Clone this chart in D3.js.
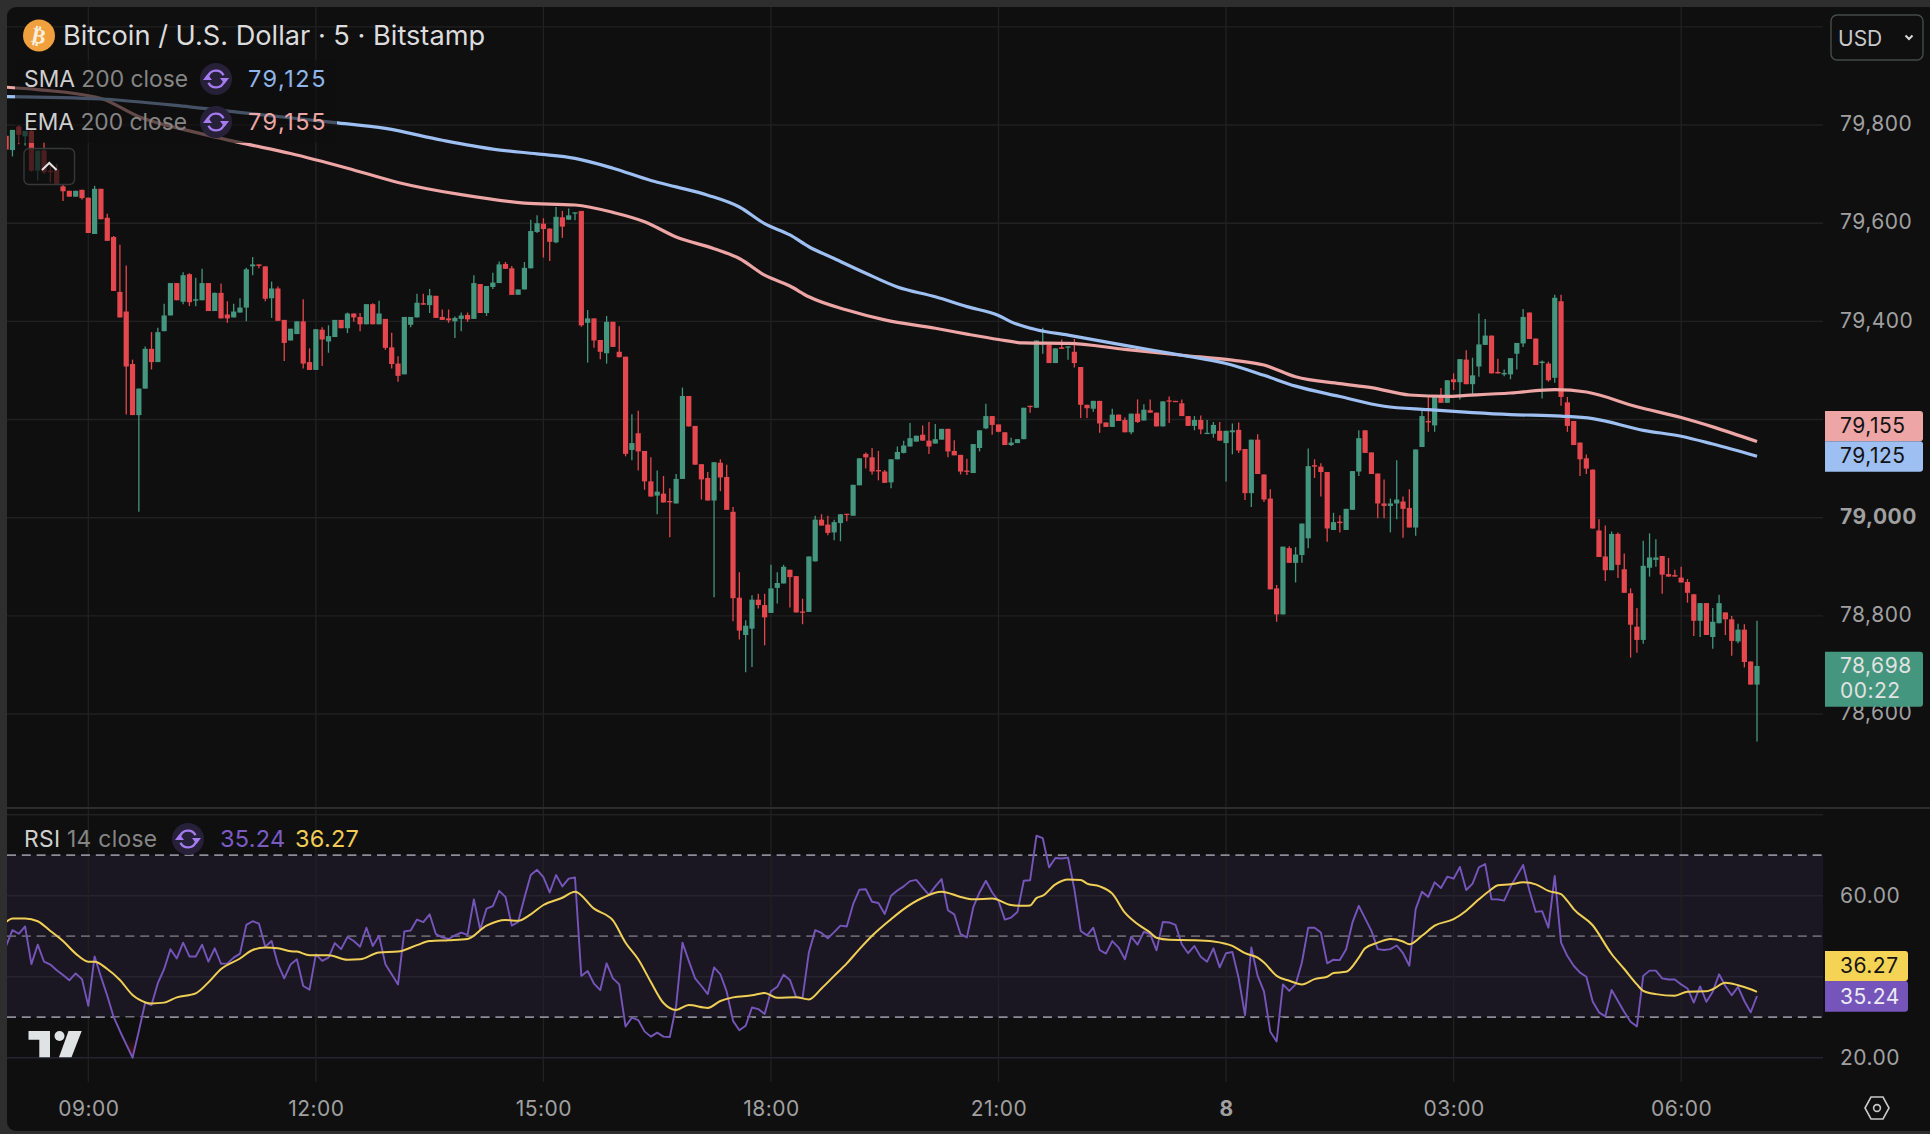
<!DOCTYPE html>
<html>
<head>
<meta charset="utf-8">
<script src="https://cdn.jsdelivr.net/npm/d3@7"></script>
<style>
    html, body { margin: 0; padding: 0; background: #2e2e2e; overflow: hidden; }
    text { font-family: Inter, "Noto Sans", sans-serif; }
</style>
</head>
<body>
<div id="main"></div>
<script>
// first bar sits 13 bars before the 09:00 one, last one is 07:00 next day
const firstBar = -13;

const opens = [
    79778,79749,79797,79777,79788,79707,79748,79707,79709,79675,
    79666,79654,79668,79652,79578,79670,79611,79572,79460,79420,
    79313,79209,79263,79344,79317,79380,79412,79478,79440,79496,
    79442,79443,79478,79421,79458,79414,79408,79418,79428,79512,
    79516,79512,79447,79467,79403,79361,79374,79400,79317,79301,
    79383,79359,79368,79403,79386,79416,79409,79394,79435,79394,
    79405,79347,79314,79292,79393,79408,79437,79433,79452,79409,
    79406,79400,79405,79413,79405,79476,79417,79470,79478,79517,
    79508,79454,79465,79508,79582,79599,79589,79561,79612,79607,
    79620,79625,79397,79406,79362,79335,79399,79338,79328,79138,
    79172,79136,79074,79045,79049,79034,79029,79079,79248,79187,
    79109,79081,79035,79112,79083,79012,78837,78761,78774,78833,
    78822,78806,78857,78866,78894,78881,78809,78808,78911,78996,
    78986,78970,78989,79008,79004,79066,79130,79123,79097,79094,
    79072,79119,79132,79145,79155,79169,79157,79151,79159,79181,
    79136,79128,79096,79091,79142,79182,79207,79190,79174,79148,
    79152,79160,79228,79224,79353,79353,79315,79347,79347,79338,
    79307,79230,79222,79238,79194,79185,79210,79199,79174,79212,
    79198,79219,79214,79186,79239,79238,79233,79207,79187,79199,
    79171,79171,79177,79152,79174,79179,79140,79050,79159,79088,
    79039,78856,78803,78938,78908,78924,78958,79107,79104,79093,
    78975,78992,78975,79016,79094,79178,79133,79090,79029,79024,
    79029,79033,79020,78980,79144,79197,79188,79247,79234,79282,
    79276,79322,79272,79308,79352,79371,79297,79292,79292,79334,
    79355,79418,79365,79315,79314,79285,79441,79235,79197,79153,
    79121,79098,78974,78921,78893,78967,78895,78846,78778,78751,
    78898,78914,78922,78885,78883,78878,78869,78844,78790,78826,
    78757,78785,78807,78793,78748,78772,78707,78660
];
const highs = [
    79782,79790,79800,79788,79790,79748,79765,79724,79721,79678,
    79666,79666,79668,79652,79676,79670,79619,79574,79556,79514,
    79322,79263,79349,79378,79387,79436,79478,79478,79500,79498,
    79489,79507,79478,79459,79477,79441,79436,79447,79509,79531,
    79516,79512,79481,79471,79403,79385,79400,79445,79345,79384,
    79388,79392,79403,79403,79418,79416,79417,79435,79437,79442,
    79405,79377,79329,79409,79409,79456,79456,79466,79452,79424,
    79424,79410,79418,79418,79494,79476,79472,79499,79522,79521,
    79513,79465,79521,79607,79616,79610,79589,79633,79625,79630,
    79622,79625,79423,79406,79362,79411,79399,79390,79328,79211,
    79218,79136,79123,79096,79085,79060,79089,79265,79248,79187,
    79109,79093,79113,79119,79108,79022,78889,78791,78842,78845,
    78845,78904,78889,78904,78894,78881,78835,78921,79004,79007,
    79004,78996,79007,79008,79067,79121,79133,79142,79136,79097,
    79119,79145,79157,79193,79167,79188,79195,79191,79181,79181,
    79158,79128,79120,79150,79178,79232,79207,79190,79174,79163,
    79160,79224,79228,79361,79387,79353,79345,79363,79349,79364,
    79307,79230,79238,79238,79194,79222,79210,79204,79212,79241,
    79231,79241,79214,79237,79247,79238,79241,79207,79207,79208,
    79199,79195,79195,79177,79192,79194,79140,79159,79170,79088,
    79058,78863,78941,78942,78940,78988,79141,79119,79111,79093,
    79010,79005,79018,79095,79178,79178,79133,79090,79078,79039,
    79117,79043,79058,79139,79218,79247,79247,79264,79280,79294,
    79323,79341,79326,79416,79405,79371,79324,79302,79325,79356,
    79425,79418,79365,79320,79318,79454,79454,79246,79197,79153,
    79129,79098,78997,78984,78972,78970,78927,78856,78816,78953,
    78968,78956,78922,78918,78894,78900,78875,78844,78826,78826,
    78816,78843,78807,78800,78784,78783,78707,78790
];
const lows = [
    79745,79736,79761,79758,79705,79687,79700,79683,79680,79645,
    79654,79654,79648,79580,79578,79608,79564,79462,79408,79210,
    79209,79012,79263,79302,79317,79380,79412,79443,79435,79431,
    79431,79443,79421,79421,79406,79397,79408,79418,79400,79494,
    79508,79441,79407,79401,79319,79361,79374,79304,79301,79301,
    79309,79336,79368,79386,79376,79399,79380,79394,79394,79394,
    79342,79304,79277,79292,79388,79408,79434,79417,79407,79403,
    79397,79366,79380,79399,79405,79417,79411,79466,79478,79507,
    79454,79454,79465,79508,79580,79530,79523,79559,79570,79607,
    79606,79389,79316,79346,79323,79314,79348,79327,79125,79117,
    79096,79057,79043,79007,79031,78960,79029,79079,79186,79108,
    79037,79035,78838,79054,79016,78789,78752,78685,78696,78815,
    78740,78806,78825,78866,78817,78807,78783,78808,78911,78984,
    78964,78954,78952,78993,79004,79066,79100,79088,79076,79071,
    79060,79119,79131,79145,79155,79157,79130,79151,79159,79123,
    79127,79088,79087,79091,79135,79180,79169,79174,79148,79146,
    79152,79160,79214,79224,79334,79315,79315,79344,79322,79306,
    79203,79203,79216,79173,79185,79185,79197,79174,79170,79193,
    79198,79214,79186,79186,79193,79237,79207,79187,79178,79170,
    79171,79163,79157,79074,79129,79132,79036,79022,79089,79032,
    78854,78788,78803,78908,78868,78908,78938,79081,79043,78951,
    78975,78970,78975,79016,79085,79132,79089,78999,78999,78970,
    78997,78959,78980,78963,79144,79175,79175,79234,79234,79260,
    79241,79272,79252,79287,79352,79294,79294,79288,79282,79302,
    79348,79364,79311,79243,79277,79275,79228,79175,79148,79085,
    79089,78978,78920,78871,78893,78877,78847,78715,78725,78743,
    78880,78900,78845,78880,78880,78868,78827,78759,78757,78761,
    78733,78785,78761,78719,78744,78695,78660,78544
];
const closes = [
    79750,79790,79780,79788,79707,79748,79704,79704,79680,79665,
    79654,79666,79651,79580,79670,79608,79564,79462,79408,79308,
    79209,79263,79344,79317,79378,79412,79478,79443,79494,79439,
    79445,79478,79421,79458,79406,79406,79420,79428,79506,79516,
    79513,79446,79467,79401,79356,79385,79400,79314,79301,79384,
    79363,79370,79403,79386,79416,79408,79394,79435,79394,79416,
    79346,79313,79289,79409,79409,79438,79434,79453,79407,79403,
    79402,79407,79412,79404,79478,79417,79472,79479,79516,79507,
    79454,79465,79509,79584,79600,79588,79562,79613,79593,79616,
    79622,79392,79406,79361,79338,79399,79348,79327,79130,79152,
    79135,79074,79043,79053,79031,79032,79079,79248,79186,79108,
    79078,79035,79113,79082,79016,78836,78770,78780,78833,78822,
    78797,78856,78867,78900,78879,78807,78807,78921,78996,78984,
    78969,78991,79007,79007,79067,79121,79123,79094,79095,79071,
    79119,79134,79147,79162,79167,79157,79145,79160,79181,79135,
    79127,79094,79094,79150,79178,79207,79189,79175,79148,79153,
    79160,79224,79226,79361,79357,79315,79345,79344,79349,79315,
    79230,79223,79238,79192,79185,79210,79197,79174,79212,79195,
    79220,79214,79186,79237,79237,79237,79207,79187,79199,79180,
    79173,79189,79157,79177,79178,79137,79050,79159,79089,79037,
    78854,78803,78941,78908,78925,78988,79105,79104,79093,78978,
    78991,78989,79018,79095,79162,79132,79089,79029,79024,79029,
    79037,79018,78980,79139,79207,79194,79247,79234,79280,79276,
    79323,79272,79290,79353,79371,79294,79294,79295,79325,79356,
    79409,79364,79311,79318,79280,79448,79246,79187,79148,79119,
    79100,78978,78920,78893,78967,78904,78847,78782,78751,78902,
    78919,78919,78884,78880,78880,78868,78847,78790,78826,78761,
    78788,78826,78793,78749,78772,78706,78660,78698
];

// moving averages, read at a handful of bars, the curve fills in between
const emaBars = [-13,-8,2,8,16,24,32,41,49,59,69,77,83,88,93,99,103,107,111,114,120,126,134,139,144,148,155,164,173,181,186,191,198,203,209,215,218,225,232,237,245,252,257,264];
const emaValues = [79877,79872,79854,79817,79788,79764,79742,79712,79683,79658,79641,79637,79622,79603,79572,79548,79528,79494,79472,79450,79423,79403,79386,79374,79363,79356,79355,79343,79331,79321,79311,79287,79273,79265,79250,79247,79249,79254,79261,79256,79226,79204,79185,79155];
const smaBars = [-13,2,16,28,39,47,56,64,71,77,83,89,93,98,103,107,111,114,118,123,128,134,139,144,146,150,155,164,173,180,186,191,198,205,212,219,225,233,238,246,252,257,264];
const smaValues = [79858,79853,79837,79820,79805,79793,79769,79751,79741,79732,79712,79687,79674,79657,79633,79599,79576,79552,79528,79498,79470,79450,79430,79412,79399,79383,79372,79351,79331,79314,79290,79268,79247,79227,79220,79214,79210,79207,79202,79178,79166,79150,79125];

const rsiValues = [
    47.6,51.5,50.6,52.4,43.1,47.9,43.7,43.0,41.6,40.4,
    39.1,40.8,39.4,32.8,45.0,40.0,35.3,30.1,26.6,23.3,
    20.0,26.6,33.6,33.0,38.4,41.9,46.8,44.5,48.4,45.0,
    45.0,47.9,43.7,47.0,43.2,43.3,44.7,45.7,52.8,53.7,
    53.1,47.4,48.8,43.1,39.6,43.0,44.3,37.7,36.8,45.5,
    43.9,44.7,48.3,46.8,49.8,48.8,47.4,52.1,47.6,50.1,
    43.1,40.6,38.1,51.2,51.4,54.1,53.5,55.4,50.5,49.7,
    49.3,50.2,50.9,50.3,59.1,51.6,56.8,57.4,61.2,59.7,
    52.6,53.5,59.5,65.1,66.4,64.6,60.8,65.1,62.3,64.2,
    64.5,40.2,41.4,38.3,36.7,43.3,39.6,38.1,27.7,29.9,
    29.3,26.5,25.2,26.2,25.2,25.1,32.8,48.4,43.9,39.6,
    37.7,35.7,42.3,40.6,36.3,29.1,26.8,27.9,32.4,32.0,
    30.8,36.4,37.5,40.5,39.2,34.9,34.8,46.0,51.5,50.8,
    49.5,51.0,52.6,52.4,57.9,61.5,61.6,58.5,58.2,55.5,
    60.0,61.3,62.3,63.6,63.9,62.0,60.2,62.3,64.1,56.4,
    55.4,50.5,49.7,57.1,60.8,63.7,60.8,58.7,54.1,54.6,
    56.0,63.7,63.8,74.8,74.2,67.0,69.3,69.2,69.4,61.6,
    51.3,50.2,52.1,46.6,45.7,48.8,47.2,44.3,49.9,47.9,
    51.1,50.5,46.5,53.5,53.4,52.8,48.0,45.8,47.6,44.9,
    43.7,47.0,42.3,45.8,46.1,39.6,30.5,47.2,40.2,36.4,
    26.4,24.0,38.1,36.5,38.1,43.5,52.1,52.1,50.9,43.3,
    44.2,44.1,46.8,53.4,57.5,54.4,51.3,46.8,46.6,46.8,
    47.7,45.8,42.7,56.7,61.0,59.7,63.3,61.9,64.7,64.2,
    67.1,61.4,63.0,67.0,67.8,59.1,59.1,58.8,62.2,64.9,
    67.6,61.2,56.0,56.2,52.1,64.9,48.4,45.1,42.7,41.0,
    40.0,33.9,31.2,30.2,36.7,34.0,31.3,28.9,27.7,40.2,
    41.5,41.5,39.6,39.3,39.3,38.1,37.1,33.6,37.6,33.8,
    36.3,40.6,37.7,35.4,37.5,34.0,31.2,35.24
];
const rsiMaBars = [-13,-12,-10,-8,-6,-4,-2,0,1,3,5,7,8,10,12,14,17,19,21,24,26,28,30,32,33,35,38,41,43,46,49,52,54,57,60,63,66,68,70,72,75,77,80,83,85,87,89,91,93,95,98,100,102,105,107,109,112,114,116,118,120,122,124,127,129,132,135,138,140,143,146,148,149,150,151,153,155,157,158,160,162,164,166,168,169,171,175,178,181,183,185,186,188,190,192,194,196,197,199,201,202,204,206,208,209,211,213,216,218,220,222,223,225,227,229,231,233,234,235,238,241,243,245,246,248,251,253,256,257,259,261,263,264];
const rsiMaValues = [53.5,54.4,54.4,53.7,51.3,48.8,45.7,43.7,43.7,41.9,39.2,35.5,34.4,33.4,33.6,34.9,35.9,38.6,41.9,44.5,46.6,47.2,47.0,46.3,46.2,45.3,45.3,44.2,44.3,46.0,46.2,47.8,48.8,49.0,49.3,52.6,54.0,53.8,55.4,57.7,59.5,61.0,56.8,53.9,48.4,44.3,38.7,33.5,31.8,33.0,32.3,34.0,34.9,35.4,36.0,34.8,34.9,34.4,37.1,40.2,43.3,46.8,50.1,54.2,56.7,59.5,61.0,59.7,59.1,59.3,57.7,57.5,57.6,59.4,60.0,62.8,64.0,63.9,63.0,62.3,60.5,55.8,53.0,50.9,49.6,49.1,49.0,48.7,47.6,45.8,44.7,43.5,40.2,39.0,38.1,39.4,40.0,40.9,41.2,44.7,47.0,48.4,49.3,48.7,48.0,50.1,52.6,54.2,56.3,59.1,61.6,62.6,62.8,63.3,62.8,61.2,60.4,58.7,56.7,52.7,45.6,41.9,38.1,36.5,35.7,35.3,36.3,36.4,36.9,38.5,37.9,36.9,36.27];

const priceTicks = [79800, 79600, 79400, 79000, 78800, 78600];
const priceGrid = [80000, 79800, 79600, 79400, 79200, 79000, 78800, 78600];
const rsiTicks = [60, 20];
const rsiGrid = [80, 60, 40, 20];
const rsiDashes = [70, 50, 30];
const timeBars = [0, 36, 72, 108, 144, 180, 216, 252];
const timeLabels = ["09:00", "12:00", "15:00", "18:00", "21:00", "8", "03:00", "06:00"];

const green = "#44967e", red = "#e5474e", smaColor = "#9dbff2", emaColor = "#eda5a5";
const rsiColor = "#7655bb", maColor = "#f0cf55", gridColor = "#212121", labelColor = "#a0a0a0";
const lastBar = firstBar + closes.length - 1;
const plotLeft = 7, plotRight = 1823, priceBottom = 808, rsiBottom = 1082;

const bars = closes.map((close, i) => ({
    bar: firstBar + i, open: opens[i], high: highs[i], low: lows[i], close
}));

const x = d3.scaleLinear().domain([0, lastBar]).range([88.3, 1757]);
const y = d3.scaleLinear().domain([79000, 79800]).range([517.7, 125]);
const yRsi = d3.scaleLinear().domain([20, 60]).range([1057.7, 895.7]);

const svg = d3.select("#main").append("svg")
    .attr("width", 1930).attr("height", 1134)
    .style("display", "block");

const defs = svg.append("defs");
defs.append("clipPath").attr("id", "plot")
    .append("rect").attr("x", plotLeft).attr("y", 7).attr("width", plotRight - plotLeft).attr("height", 1124);
defs.append("clipPath").attr("id", "oversold")
    .append("rect").attr("x", plotLeft).attr("y", yRsi(30)).attr("width", plotRight - plotLeft).attr("height", 80);
const fade = defs.append("linearGradient").attr("id", "fade").attr("x1", 0).attr("x2", 0).attr("y1", 0).attr("y2", 1)
    .attr("gradientUnits", "objectBoundingBox");
fade.append("stop").attr("offset", 0.55).attr("stop-color", "#0f0f0f");
fade.append("stop").attr("offset", 1).attr("stop-color", "#5e1616");

svg.append("rect").attr("x", plotLeft).attr("y", 7).attr("width", 1930).attr("height", 1124)
    .attr("rx", 9).attr("fill", "#0f0f0f");

// --------------------------------
// grid and rsi band
// --------------------------------
const hLine = (g, vals, scale) => g.selectAll("line.h" + vals[0]).data(vals).enter().append("line")
    .attr("x1", plotLeft).attr("x2", plotRight)
    .attr("y1", d => scale(d)).attr("y2", d => scale(d))
    .attr("stroke", gridColor).attr("stroke-width", 1.4);

const grid = svg.append("g");
svg.append("rect").attr("x", plotLeft).attr("width", plotRight - plotLeft)
    .attr("y", yRsi(70)).attr("height", yRsi(30) - yRsi(70)).attr("fill", "#1a1722");
hLine(grid, priceGrid, y);
const rsiGridG = svg.append("g");
hLine(rsiGridG, rsiGrid, yRsi).attr("stroke", d => d === 80 ? gridColor : "#252430");
rsiGridG.selectAll("line.v").data(timeBars).enter().append("line").attr("class", "v")
    .attr("x1", d => x(d)).attr("x2", d => x(d))
    .attr("y1", 7).attr("y2", rsiBottom)
    .attr("stroke", gridColor).attr("stroke-width", 1.3);

svg.append("line").attr("x1", plotLeft).attr("x2", 1930)
    .attr("y1", priceBottom).attr("y2", priceBottom)
    .attr("stroke", "#2d2d2d").attr("stroke-width", 2);

svg.append("g").selectAll("line").data(rsiDashes).enter().append("line")
    .attr("x1", plotLeft).attr("x2", plotRight)
    .attr("y1", d => yRsi(d)).attr("y2", d => yRsi(d))
    .attr("stroke", d => d === 50 ? "#66656c" : "#8d8c98")
    .attr("stroke-width", 1.7)
    .attr("stroke-dasharray", "9 5.8");

// --------------------------------
// candles
// --------------------------------
const candles = svg.append("g").attr("clip-path", "url(#plot)")
    .selectAll("g").data(bars).enter().append("g")
    .attr("fill", d => d.close >= d.open ? green : red)
    .attr("stroke", d => d.close >= d.open ? green : red);
candles.append("line")
    .attr("x1", d => x(d.bar)).attr("x2", d => x(d.bar))
    .attr("y1", d => y(d.high)).attr("y2", d => y(d.low))
    .attr("stroke-width", 1.3);
candles.append("rect")
    .attr("x", d => x(d.bar) - 2.6).attr("width", 5.2)
    .attr("y", d => y(Math.max(d.open, d.close)))
    .attr("height", d => Math.max(1.3, Math.abs(y(d.open) - y(d.close))))
    .attr("stroke", "none");

// --------------------------------
// moving averages
// --------------------------------
const maLine = (xs, ys, scale) => d3.line()
    .curve(d3.curveMonotoneX)
    .x((d, i) => x(xs[i]))
    .y(d => scale(d))(ys);

const maGroup = svg.append("g").attr("clip-path", "url(#plot)").attr("fill", "none");
maGroup.append("path").attr("d", maLine(emaBars, emaValues, y)).attr("stroke", emaColor).attr("stroke-width", 3.2);
maGroup.append("path").attr("d", maLine(smaBars, smaValues, y)).attr("stroke", smaColor).attr("stroke-width", 3.2);

// --------------------------------
// rsi
// --------------------------------
const rsiPane = svg.append("g").attr("clip-path", "url(#plot)");
rsiPane.append("path")
    .attr("clip-path", "url(#oversold)")
    .attr("fill", "url(#fade)")
    .attr("d", d3.area()
        .x((d, i) => x(firstBar + i))
        .y0(yRsi(30))
        .y1(d => yRsi(Math.min(d, 30)))(rsiValues));
rsiPane.append("path")
    .attr("fill", "none").attr("stroke", rsiColor).attr("stroke-width", 1.9).attr("stroke-linejoin", "round")
    .attr("d", d3.line().x((d, i) => x(firstBar + i)).y(d => yRsi(d))(rsiValues));
rsiPane.append("path").attr("fill", "none").attr("stroke", maColor).attr("stroke-width", 2)
    .attr("d", maLine(rsiMaBars, rsiMaValues, yRsi));

// --------------------------------
// axes
// --------------------------------
const styleAxis = g => {
    g.select(".domain").remove();
    g.selectAll(".tick line").remove();
    g.selectAll("text").attr("fill", labelColor).attr("font-size", 21)
        .style("font-family", "Inter, sans-serif")
        .style("letter-spacing", "0.5px");
};
svg.append("g").attr("transform", "translate(1840,-1)")
    .call(d3.axisRight(y).tickValues(priceTicks).tickSize(0).tickPadding(0).tickFormat(d3.format(",")))
    .call(styleAxis)
    .call(g => g.selectAll("text").attr("font-weight", d => d === 79000 ? 700 : 400));
svg.append("g").attr("transform", "translate(1840,0)")
    .call(d3.axisRight(yRsi).tickValues(rsiTicks).tickSize(0).tickPadding(0).tickFormat(d3.format(".2f")))
    .call(styleAxis);
svg.append("g").attr("transform", "translate(0,1101)")
    .call(d3.axisBottom(x).tickValues(timeBars).tickSize(0).tickPadding(0)
        .tickFormat((d, i) => timeLabels[i]))
    .call(styleAxis)
    .call(g => g.selectAll("text").attr("font-weight", (d, i) => timeLabels[i] === "8" ? 700 : 400));

// axis value tags
const tag = (top, bottom, fill, textFill, lines, right) => {
    const g = svg.append("g");
    g.append("path")
        .attr("d", `M1825,${top}H${right - 3}Q${right},${top} ${right},${top + 3}V${bottom - 3}Q${right},${bottom} ${right - 3},${bottom}H1825Z`)
        .attr("fill", fill);
    lines.forEach(l => g.append("text").attr("x", 1840).attr("y", l.y).attr("dy", "0.35em")
        .attr("fill", textFill).attr("font-size", 21).style("letter-spacing", "0.5px").text(l.t));
};
tag(411, 441.3, emaColor, "#131313", [{t: d3.format(",")(emaValues[emaValues.length - 1]), y: 425.5}], 1923);
tag(441.3, 471.7, smaColor, "#131313", [{t: d3.format(",")(smaValues[smaValues.length - 1]), y: 456}], 1923);
tag(651.7, 706.7, green, "#e2e2e2", [{t: d3.format(",")(closes[closes.length - 1]), y: 666}, {t: "00:22", y: 691}], 1923);
tag(951, 981, "#f5d355", "#131313", [{t: "36.27", y: 966}], 1908);
tag(981, 1011.7, rsiColor, "#ececf4", [{t: "35.24", y: 996.5}], 1908);

// --------------------------------
// legend overlay
// --------------------------------
svg.append("rect").attr("x", 15).attr("y", 60).attr("width", 322).attr("height", 83)
    .attr("fill", "#0f0f0f").attr("opacity", 0.62);

const legendText = (px, py, parts, size, spacing) => {
    const t = svg.append("text").attr("x", px).attr("y", py).attr("dy", "0.35em").attr("font-size", size)
        .style("letter-spacing", (spacing || 0) + "px");
    parts.forEach(p => t.append("tspan").attr("fill", p[1]).text(p[0]));
};
const refreshIcon = (cx, cy) => {
    const g = svg.append("g").attr("transform", `translate(${cx},${cy})`);
    g.append("circle").attr("r", 16).attr("fill", "#272039");
    const arc = d3.arc().innerRadius(7.2).outerRadius(9.6);
    g.append("path").attr("fill", "#a47bf0").attr("d", arc({startAngle: -1.2, endAngle: 1.1}));
    g.append("path").attr("fill", "#a47bf0").attr("d", arc({startAngle: 1.95, endAngle: 4.25}));
    g.append("path").attr("fill", "#a47bf0").attr("d", "M4,-1L13,-1L8.5,5Z");
    g.append("path").attr("fill", "#a47bf0").attr("d", "M-4,1L-13,1L-8.5,-5Z");
};

svg.append("circle").attr("cx", 39).attr("cy", 35.5).attr("r", 16).attr("fill", "#f0a03c");
svg.append("text").attr("x", 39).attr("y", 35.5).attr("dy", "0.36em").attr("text-anchor", "middle")
    .attr("font-size", 21).attr("font-weight", 700).attr("fill", "#fbeedd")
    .attr("transform", "rotate(12 39 35.5)").style("font-family", "'DejaVu Sans'").text("₿");
legendText(63, 35.5, [["Bitcoin / U.S. Dollar · 5 · Bitstamp", "#dcdcdc"]], 27.2);

legendText(24, 79, [["SMA", "#cfcfcf"], [" 200 close", "#858585"]], 22.8);
refreshIcon(216, 79);
legendText(248, 79, [["79,125", "#8fb5ea"]], 23.5, 1.5);
legendText(24, 122, [["EMA", "#cfcfcf"], [" 200 close", "#858585"]], 22.8);
refreshIcon(216, 122);
legendText(248, 122, [["79,155", "#eda5a5"]], 23.5, 1.5);

legendText(24, 839, [["RSI", "#cfcfcf"], [" 14 close", "#858585"]], 22.8, 0.3);
refreshIcon(188, 839);
legendText(220, 839, [["35.24", "#7a5bc4"]], 23.5, 0.3);
legendText(295, 839, [["36.27", "#f0cc55"]], 23.5, 0.3);

// collapse button
svg.append("rect").attr("x", 24).attr("y", 148.5).attr("width", 50.5).attr("height", 36).attr("rx", 5)
    .attr("fill", "#0f0f0f").attr("fill-opacity", 0.72).attr("stroke", "#363838").attr("stroke-width", 1.4);
svg.append("path").attr("d", "M42,170L49.3,163L56.6,170").attr("fill", "none")
    .attr("stroke", "#e4e4e4").attr("stroke-width", 2);

// currency button
svg.append("rect").attr("x", 1831).attr("y", 15).attr("width", 92).attr("height", 45).attr("rx", 6)
    .attr("fill", "#0f0f0f").attr("stroke", "#474b4b").attr("stroke-width", 1.4);
svg.append("text").attr("x", 1838).attr("y", 38).attr("dy", "0.36em")
    .attr("font-size", 21).attr("fill", "#c8c8c8").text("USD");
svg.append("path").attr("d", "M1905.5,35.5L1909,39L1912.5,35.5").attr("fill", "none")
    .attr("stroke", "#d8d8d8").attr("stroke-width", 2);

// logo
const logo = svg.append("g").attr("fill", "#dfe3e3");
logo.append("path").attr("d", "M28.5,1031H50V1057.3H39.3V1039.8H28.5Z");
logo.append("circle").attr("cx", 59.5).attr("cy", 1036).attr("r", 5);
logo.append("path").attr("d", "M68.5,1031H81.7L71.5,1057.3H59Z");

// settings
const gear = svg.append("g").attr("transform", "translate(1877,1108)")
    .attr("fill", "none").attr("stroke", "#c9c9c9").attr("stroke-width", 1.6);
gear.append("path").attr("d", "M-12,0L-6,-11H6L12,0L6,11H-6Z");
gear.append("circle").attr("r", 3.4);
</script>
</body>
</html>
